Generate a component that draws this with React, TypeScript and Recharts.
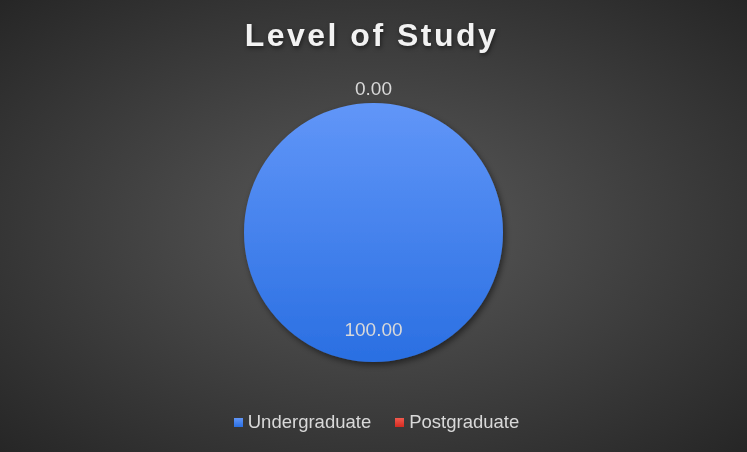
import React from 'react';
import { PieChart, Pie, Cell, Legend } from 'recharts';

const CATEGORIES = ['Undergraduate', 'Postgraduate'];
const VALUES = [100, 0];
const GRADIENTS = [
  ['#6196f8', '#2a6fe2'],
  ['#f25a4e', '#d42a20'],
];

const data = CATEGORIES.map((name, i) => ({ name, value: VALUES[i] }));

const W = 747;
const H = 452;

const renderLabel = (props: any) => {
  const { cx, cy, midAngle, outerRadius, value, index } = props;
  const RAD = Math.PI / 180;
  // big slice label sits inside, the empty slice label goes outside
  const r = index === 0 ? outerRadius * 0.75 : outerRadius + 15;
  const x = cx + r * Math.cos(-midAngle * RAD);
  const y = cy + r * Math.sin(-midAngle * RAD);
  return (
    <text
      x={x}
      y={y}
      fill="#d9d9d9"
      fontSize={19}
      fontFamily="'Liberation Sans', Arial, sans-serif"
      textAnchor="middle"
      dominantBaseline="central"
    >
      {Number(value).toFixed(2)}
    </text>
  );
};

const LegendContent: React.FC<any> = () => (
  <div style={{ display: 'flex', justifyContent: 'center', alignItems: 'center', fontFamily: "'Liberation Sans', Arial, sans-serif", fontSize: 18.5, color: '#d9d9d9', paddingLeft: 6 }}>
    {CATEGORIES.map((c, i) => (
      <div key={c} style={{ display: 'flex', alignItems: 'center', marginRight: i === 0 ? 24 : 0 }}>
        <span style={{ display: 'inline-block', width: 9, height: 9, background: `linear-gradient(${GRADIENTS[i][0]}, ${GRADIENTS[i][1]})`, marginRight: 5 }} />
        <span>{c}</span>
      </div>
    ))}
  </div>
);

export default function App() {
  return (
    <div
      style={{
        position: 'fixed',
        top: 0,
        left: 0,
        width: W,
        height: H,
        overflow: 'hidden',
        background: 'radial-gradient(ellipse farthest-corner at 50% 50%, #5a5a5a 0%, #262626 100%)',
      }}
    >
      <div
        style={{
          position: 'absolute',
          top: 17,
          left: -2,
          width: W,
          textAlign: 'center',
          fontFamily: "'Liberation Sans', Arial, sans-serif",
          fontWeight: 'bold',
          fontSize: 32,
          letterSpacing: 2.5,
          color: '#f2f2f2',
          textShadow: '1px 2px 4px rgba(0,0,0,0.5)',
        }}
      >
        Level of Study
      </div>
      <PieChart width={W} height={H} margin={{ top: 0, right: 0, bottom: 0, left: 0 }} style={{ position: 'absolute', top: 0, left: 0 }}>
        <defs>
          {GRADIENTS.map((g, i) => (
            <linearGradient key={i} id={`grad${i}`} x1="0" y1="0" x2="0" y2="1">
              <stop offset="0%" stopColor={g[0]} />
              <stop offset="100%" stopColor={g[1]} />
            </linearGradient>
          ))}
          <filter id="pieShadow" x="-20%" y="-20%" width="140%" height="140%">
            <feDropShadow dx="2" dy="3" stdDeviation="3" floodColor="#000" floodOpacity="0.5" />
          </filter>
        </defs>
        <Pie
          data={data}
          dataKey="value"
          nameKey="name"
          cx={373.5}
          cy={232.5}
          outerRadius={129.5}
          startAngle={90}
          endAngle={-270}
          stroke="none"
          label={renderLabel}
          labelLine={false}
          isAnimationActive={false}
          style={{ filter: 'url(#pieShadow)' }}
        >
          {data.map((d, i) => (
            <Cell key={d.name} fill={`url(#grad${i})`} stroke="none" />
          ))}
        </Pie>
        <Legend content={<LegendContent />} wrapperStyle={{ top: 411, left: 0, width: W }} />
      </PieChart>
    </div>
  );
}
